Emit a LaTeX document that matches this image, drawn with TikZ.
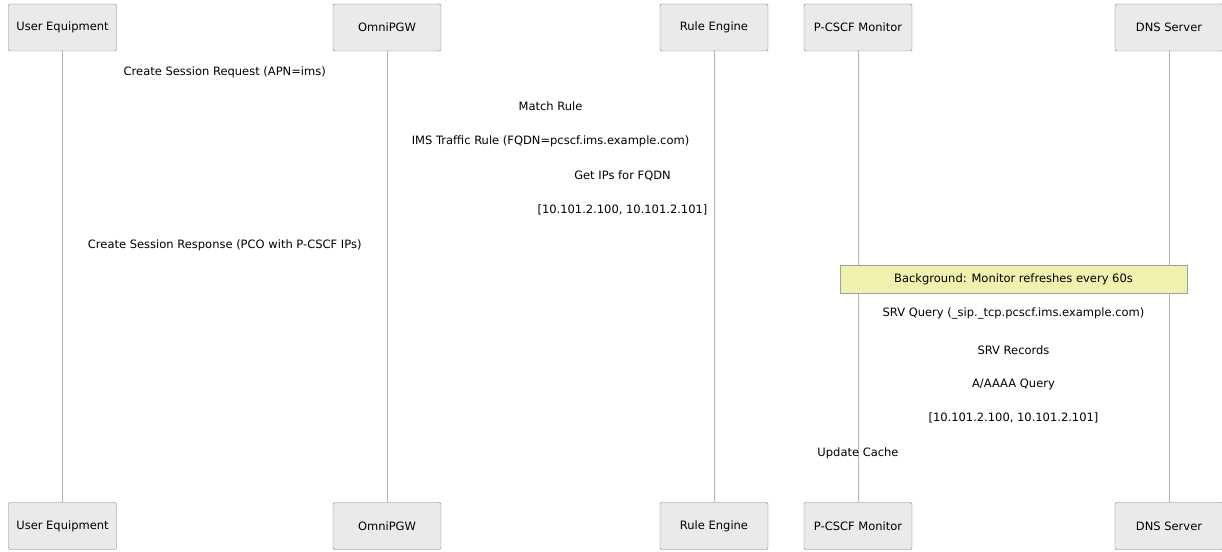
\documentclass[tikz,border=0pt]{standalone}
\usepackage{fontspec}
\setmainfont{DejaVu Sans}
\usepackage{tikz}
\usetikzlibrary{positioning,calc}
\definecolor{boxfill}{HTML}{EAEAEA}
\definecolor{boxline}{HTML}{777777}
\definecolor{lifeline}{HTML}{B4B4B4}
\definecolor{notefill}{HTML}{EEF2AE}
\definecolor{noteline}{HTML}{A0A0A0}

\begin{document}
\begin{tikzpicture}[
  x=1pt,y=-1pt,
  font=\fontsize{11.5}{13}\selectfont,
  actor/.style={draw=boxline,fill=boxfill,rounded corners=2pt,minimum width=108pt,minimum height=47pt,inner sep=0pt},
  life/.style={draw=lifeline,line width=1pt},
  msg/.style={inner sep=1pt},
  note/.style={draw=noteline,fill=notefill,minimum width=347pt,minimum height=28pt,inner sep=0pt},
]
\useasboundingbox (0,0) rectangle (1222,551);
% ----- participants (top)
\node[actor] (ue) at (62.5,27.5) {User Equipment};
\node[actor] (pgw) at (387,27.5) {OmniPGW};
\node[actor] (rule) at (714,27.5) {Rule Engine};
\node[actor] (pcscf) at (858,27.5) {P-CSCF Monitor};
\node[actor] (dns) at (1169,27.5) {DNS Server};
% ----- participants (bottom)
\node[actor] (ueB) at (62.5,526) {User Equipment};
\node[actor] (pgwB) at (387,526) {OmniPGW};
\node[actor] (ruleB) at (714,526) {Rule Engine};
\node[actor] (pcscfB) at (858,526) {P-CSCF Monitor};
\node[actor] (dnsB) at (1169,526) {DNS Server};
% ----- lifelines
\foreach \p in {ue,pgw,rule,pcscf,dns}
  \draw[life] (\p.south) -- (\p B.north);
% ----- session setup
\node[msg] (req) at ($(ue)!.5!(pgw)+(0,44.5)$) {Create Session Request (APN=ims)};
\node[msg] (match) at ($(pgw)!.5!(rule)+(0,78.5)$) {Match Rule};
\node[msg] (imsrule) at ($(pgw)!.5!(rule)+(0,113.5)$) {IMS Traffic Rule (FQDN=pcscf.ims.example.com)};
\node[msg] (getip) at ($(pgw)!.5!(pcscf)+(0,148.5)$) {Get IPs for FQDN};
\node[msg] (iplist) at ($(pgw)!.5!(pcscf)+(0,182.5)$) {[10.101.2.100, 10.101.2.101]};
\node[msg] (resp) at ($(ue)!.5!(pgw)+(0,217.5)$) {Create Session Response (PCO with P-CSCF IPs)};
% ----- background refresh
\node[note] (bg) at ($(pcscf)!.5!(dns)+(0,251.5)$) {Background: Monitor refreshes every 60s};
\node[msg] (srvq) at ($(pcscf)!.5!(dns)+(0,285.5)$) {SRV Query (\_sip.\_tcp.pcscf.ims.example.com)};
\node[msg] (srvr) at ($(pcscf)!.5!(dns)+(0,322.5)$) {SRV Records};
\node[msg] (aq) at ($(pcscf)!.5!(dns)+(0,356.5)$) {A/AAAA Query};
\node[msg] (arec) at ($(pcscf)!.5!(dns)+(0,390.5)$) {[10.101.2.100, 10.101.2.101]};
\node[msg] (cache) at ($(pcscf)+(0,425.5)$) {Update Cache};
\end{tikzpicture}
\end{document}
